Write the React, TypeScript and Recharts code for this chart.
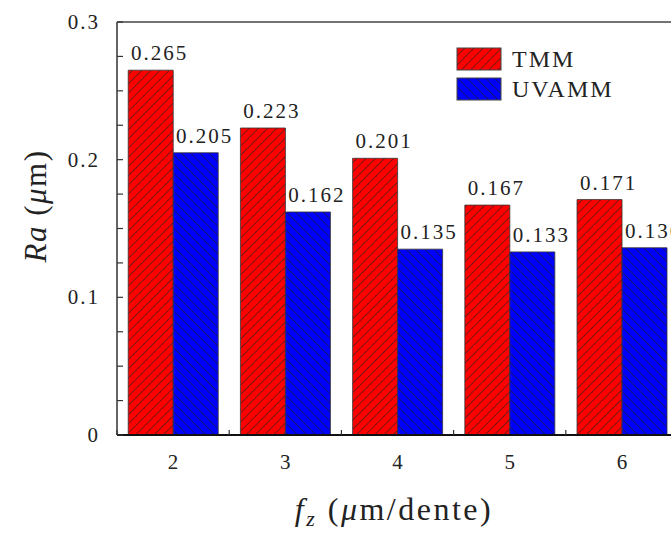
import React from "react";
import {
  BarChart,
  Bar,
  XAxis,
  YAxis,
  Legend,
  LabelList,
  ReferenceLine,
} from "recharts";

const feeds = ["2", "3", "4", "5", "6"];
const tmm = [0.265, 0.223, 0.201, 0.167, 0.171];
const uvamm = [0.205, 0.162, 0.135, 0.133, 0.136];
const yTicks = [0, 0.025, 0.05, 0.075, 0.1, 0.125, 0.15, 0.175, 0.2, 0.225, 0.25, 0.275, 0.3];
const yMajor = [0, 0.1, 0.2, 0.3];

const data = feeds.map((fz, i) => ({ fz, tmm: tmm[i], uvamm: uvamm[i] }));

const FONT = "Liberation Serif, DejaVu Serif, serif";

function Hatches({ prefix }: { prefix: string }) {
  return (
    <defs>
      <pattern
        id={prefix + "red"}
        patternUnits="userSpaceOnUse"
        width={6.5}
        height={6.5}
        patternTransform="rotate(45)"
      >
        <rect width={6.5} height={6.5} fill="#ff0000" />
        <line x1={0} y1={0} x2={0} y2={6.5} stroke="#222" strokeWidth={1.2} />
      </pattern>
      <pattern
        id={prefix + "blue"}
        patternUnits="userSpaceOnUse"
        width={6.5}
        height={6.5}
        patternTransform="rotate(-45)"
      >
        <rect width={6.5} height={6.5} fill="#0000ff" />
        <line x1={0} y1={0} x2={0} y2={6.5} stroke="#222" strokeWidth={1.2} />
      </pattern>
    </defs>
  );
}

const YTick = (props: any) => {
  const { x, y, payload } = props;
  const major = yMajor.some((m) => Math.abs(m - payload.value) < 1e-9);
  return (
    <g>
      <line x1={x} y1={y} x2={x + 6} y2={y} stroke="#333" strokeWidth={1.2} />
      {major && (
        <text
          x={x - 17}
          y={y + 7}
          textAnchor="end"
          style={{ fontFamily: FONT, fontSize: 21, letterSpacing: 2 }}
          fill="#222"
        >
          {payload.value === 0 ? "0" : String(payload.value)}
        </text>
      )}
    </g>
  );
};

const XTick = (props: any) => {
  const { x, y, payload } = props;
  const off = payload.offset || 0;
  return (
    <g>
      <line x1={x - off} y1={y} x2={x - off} y2={y - 5} stroke="#333" strokeWidth={1.2} />
      <text
        x={x}
        y={y + 34}
        textAnchor="middle"
        style={{ fontFamily: FONT, fontSize: 21 }}
        fill="#222"
      >
        {payload.value}
      </text>
    </g>
  );
};

const valueLabel = (props: any) => {
  const { x, y, width, value } = props;
  return (
    <text
      x={x + width / 2 + 9}
      y={y - 10}
      textAnchor="middle"
      style={{ fontFamily: FONT, fontSize: 21, letterSpacing: 2 }}
      fill="#222"
    >
      {Number(value).toFixed(3)}
    </text>
  );
};

const LegendBox = (props: any) => {
  const items = props.payload || [];
  return (
    <div style={{ fontFamily: FONT }}>
      {items.map((it: any) => (
        <div key={it.value} style={{ display: "flex", alignItems: "center", height: 30 }}>
          <svg width={46} height={24}>
            <Hatches prefix="lg-" />
            <rect
              x={1}
              y={1}
              width={44}
              height={22}
              fill={it.dataKey === "tmm" ? "url(#lg-red)" : "url(#lg-blue)"}
              stroke="#444"
              strokeWidth={1}
            />
          </svg>
          <span style={{ fontSize: 24, marginLeft: 10, letterSpacing: 2, color: "#222" }}>
            {it.value}
          </span>
        </div>
      ))}
    </div>
  );
};

export default function App() {
  return (
    <div
      style={{
        position: "absolute",
        left: 0,
        top: 0,
        width: 671,
        height: 533,
        overflow: "hidden",
        background: "#fff",
      }}
    >
      <BarChart
        width={700}
        height={533}
        data={data}
        margin={{ top: 22, right: 22, bottom: 38, left: 57 }}
        barCategoryGap="10%"
        barGap={0}
      >
        <Hatches prefix="pt-" />
        <XAxis
          dataKey="fz"
          height={60}
          tickSize={0}
          tickMargin={0}
          tickLine={false}
          tick={<XTick />}
          interval={0}
          axisLine={{ stroke: "#111", strokeWidth: 2 }}
          label={(p: any) => {
            const vb = p.viewBox;
            return (
              <text
                x={394}
                y={vb.y + 85}
                textAnchor="middle"
                style={{ fontFamily: FONT, fontSize: 32, letterSpacing: 2.5 }}
                fill="#222"
              >
                <tspan fontStyle="italic">f</tspan>
                <tspan fontStyle="italic" fontSize={22} dy={6}>z</tspan>
                <tspan dy={-6}> (</tspan>
                <tspan fontStyle="italic">μ</tspan>
                <tspan>m/dente)</tspan>
              </text>
            );
          }}
        />
        <YAxis
          width={60}
          domain={[0, 0.3]}
          ticks={yTicks}
          interval={0}
          tickSize={0}
          tickMargin={0}
          tickLine={false}
          tick={<YTick />}
          axisLine={{ stroke: "#333", strokeWidth: 1.5 }}
          label={() => (
            <text
              x={0}
              y={0}
              transform="translate(46, 206) rotate(-90)"
              textAnchor="middle"
              style={{ fontFamily: FONT, fontSize: 31, letterSpacing: 1.5 }}
              fill="#222"
            >
              <tspan fontStyle="italic">Ra</tspan>
              <tspan> (</tspan>
              <tspan fontStyle="italic">μ</tspan>
              <tspan>m)</tspan>
            </text>
          )}
        />
        <ReferenceLine y={0.3} stroke="#444" strokeWidth={1.5} />
        <Legend
          layout="vertical"
          align="center"
          verticalAlign="middle"
          content={<LegendBox />}
          wrapperStyle={{ left: 456, top: 44, width: 200 }}
        />
        <Bar
          dataKey="tmm"
          name="TMM"
          fill="url(#pt-red)"
          stroke="#333"
          strokeWidth={0.8}
          isAnimationActive={false}
        >
          <LabelList dataKey="tmm" content={valueLabel} />
        </Bar>
        <Bar
          dataKey="uvamm"
          name="UVAMM"
          fill="url(#pt-blue)"
          stroke="#333"
          strokeWidth={0.8}
          isAnimationActive={false}
        >
          <LabelList dataKey="uvamm" content={valueLabel} />
        </Bar>
      </BarChart>
    </div>
  );
}
